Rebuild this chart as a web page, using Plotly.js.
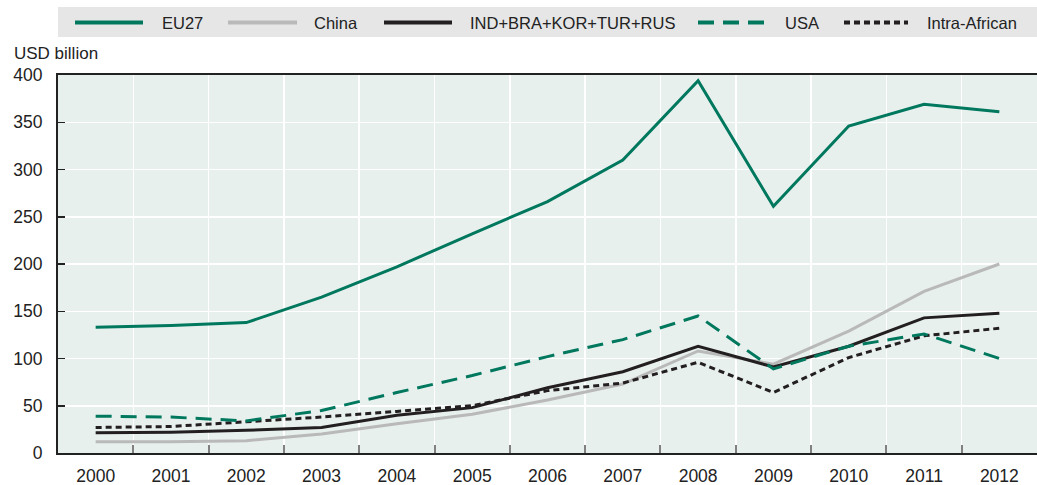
<!DOCTYPE html>
<html>
<head>
<meta charset="utf-8">
<script src="https://cdn.plot.ly/plotly-3.0.1.min.js"></script>
<style>html,body{margin:0;padding:0;background:#fff;}#chart{width:1037px;height:485px;}</style>
</head>
<body>
<div id="chart"></div>
<script>
// ---- data (USD billion) ----
const years = ['2000','2001','2002','2003','2004','2005','2006','2007','2008','2009','2010','2011','2012'];
const seriesNames = ['EU27','China','IND+BRA+KOR+TUR+RUS','USA','Intra-African'];
const eu27 = [133,135,138,165,197,232,266,310,394,261,346,369,361];
const china = [12,12,13,20,31,41,56,73,108,94,129,171,200];
const ind = [21.5,22,24,27,40,48,69,86,113,91,113,143,148];
const usa = [39,38,34,45,64,82,102,120,145,89,113,126,100];
const intraAfrican = [27,28,33,38,44,50,66,74,96,64,101,124,132];
const yTicks = [0,50,100,150,200,250,300,350,400];

// ---- styles ----
const FONT = '"Liberation Sans", Arial, sans-serif';
const styles = [
  {color:'#00785e', dash:'solid', width:3},
  {color:'#b9b9b9', dash:'solid', width:3},
  {color:'#231f20', dash:'solid', width:3},
  {color:'#00785e', dash:'16px,9px', width:3},
  {color:'#231f20', dash:'6px,4px', width:3}
];
const values = [eu27, china, ind, usa, intraAfrican];
// draw order: EU27, China, IND, Intra-African, USA on top
const order = [0,1,2,4,3];

const traces = order.map(i => ({
  type:'scatter', mode:'lines', name:seriesNames[i], x:years, y:values[i],
  line:{color:styles[i].color, width:styles[i].width, dash:styles[i].dash},
  hoverinfo:'skip'
}));

// pixel helpers for legend / labels (layout only)
const L = 58, T = 75, W = 979, H = 378;
const px = p => (p - L) / W;
const py = p => (T + H - p) / H;

// custom legend: sample line positions and text positions
const legLine = [[75,143],[228,297],[384,452],[698,765],[844,908]];
const legText = [160,312,468,783,925];
const shapes = [{
  type:'rect', xref:'paper', yref:'paper', x0:px(58), x1:px(1037), y0:py(37), y1:py(7),
  fillcolor:'#e6e6e7', line:{width:0}, layer:'below'
}];
const annotations = [];
seriesNames.forEach((n,i) => {
  shapes.push({type:'line', xref:'paper', yref:'paper', x0:px(legLine[i][0]), x1:px(legLine[i][1]),
    y0:py(22.5), y1:py(22.5), line:{color:styles[i].color, width:4, dash:styles[i].dash}});
  annotations.push({xref:'paper', yref:'paper', x:px(legText[i]), y:py(22.5), xanchor:'left', yanchor:'middle',
    text:n, showarrow:false, font:{family:FONT, size:16.5, color:'#222'}});
});
annotations.push({xref:'paper', yref:'paper', x:px(12), y:py(53), xanchor:'left', yanchor:'middle',
  text:'USD billion', showarrow:false, font:{family:FONT, size:17, color:'#222'}});

const layout = {
  width:1037, height:485,
  margin:{l:L, r:0, t:T, b:485-T-H, pad:0},
  paper_bgcolor:'#ffffff', plot_bgcolor:'#e8f0ee',
  showlegend:false,
  font:{family:FONT, size:17, color:'#222'},
  xaxis:{
    type:'category', tickson:'boundaries', range:[-0.5,12.5],
    showgrid:true, gridcolor:'#ffffff', gridwidth:1.5,
    ticks:'inside', ticklen:8, tickwidth:2, tickcolor:'#808080',
    showline:true, linecolor:'#222', linewidth:2, mirror:true,
    tickfont:{family:FONT, size:17.5, color:'#222'}, ticklabelstandoff:6, fixedrange:true
  },
  yaxis:{
    range:[0,400], tickvals:yTicks, ticktext:yTicks.map(String),
    showgrid:true, gridcolor:'#ffffff', gridwidth:1.5, zeroline:false,
    ticks:'inside', ticklen:7, tickwidth:1.5, tickcolor:'#222',
    showline:true, linecolor:'#222', linewidth:2,
    tickfont:{family:FONT, size:17.5, color:'#222'}, ticklabelstandoff:10, fixedrange:true
  },
  shapes:shapes, annotations:annotations
};

Plotly.newPlot('chart', traces, layout, {displayModeBar:false, staticPlot:true});
</script>
</body>
</html>
